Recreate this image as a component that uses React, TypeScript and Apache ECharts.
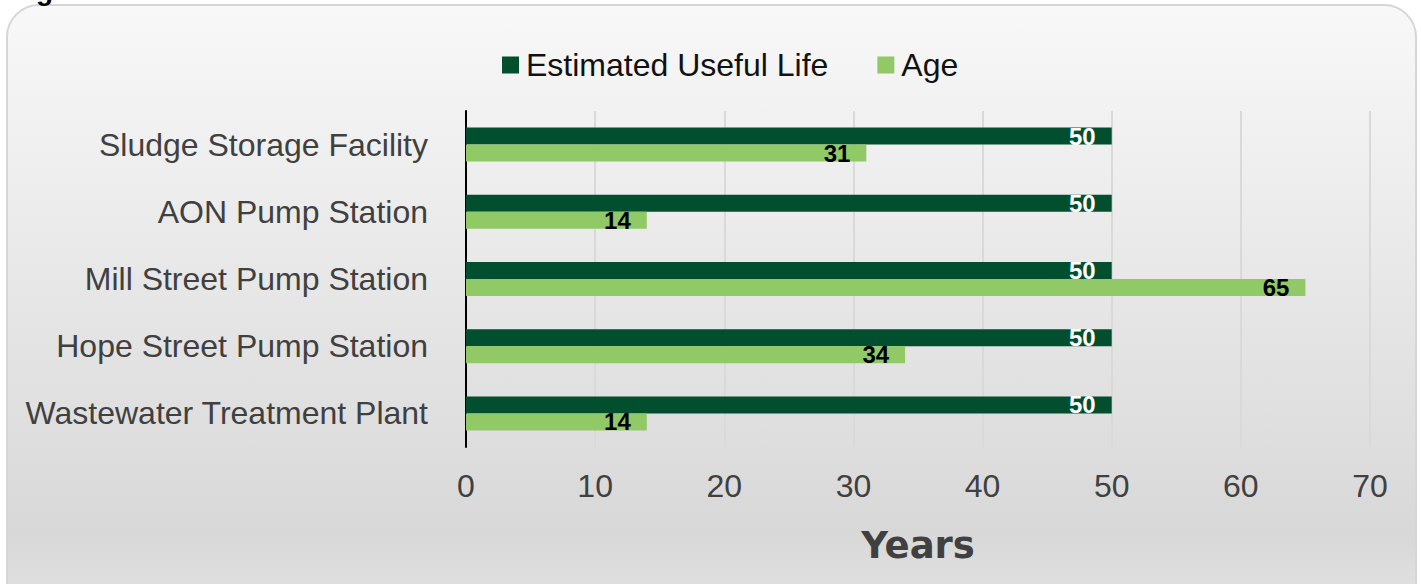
import React, { useEffect, useRef } from "react";
import * as echarts from "echarts";

const categories = [
  "Sludge Storage Facility",
  "AON Pump Station",
  "Mill Street Pump Station",
  "Hope Street Pump Station",
  "Wastewater Treatment Plant",
];
const usefulLife = [50, 50, 50, 50, 50];
const age = [31, 14, 65, 34, 14];
const seriesNames = ["Estimated Useful Life", "Age"];
const xTicks = { min: 0, max: 70, interval: 10 };
const axisTitle = "Years";

const FONT = "'Liberation Sans', Arial, sans-serif";
const DARK = "#024f2f";
const LIGHT = "#92c967";

export default function App() {
  const ref = useRef<HTMLDivElement>(null);
  useEffect(() => {
    if (!ref.current) return;
    const chart = echarts.init(ref.current, undefined, { renderer: "svg" });
    chart.setOption({
      animation: false,
      backgroundColor: "#ffffff",
      textStyle: { fontFamily: FONT },
      graphic: [
        {
          type: "rect",
          z: -10,
          silent: true,
          shape: { x: 7, y: 5, width: 1409, height: 620, r: 32 },
          style: {
            fill: new echarts.graphic.LinearGradient(0, 0, 0, 1, [
              { offset: 0, color: "#f8f8f8" },
              { offset: 0.85, color: "#d8d8d8" },
              { offset: 1, color: "#e4e4e4" },
            ]),
            stroke: "#d6d6d6",
            lineWidth: 2,
          },
        },
        {
          type: "text",
          x: 36,
          y: 4,
          z: 10,
          silent: true,
          style: {
            text: "g",
            fontSize: 28,
            fontWeight: "bold",
            fontFamily: FONT,
            fill: "#000000",
            verticalAlign: "bottom",
          },
        },
      ],
      legend: {
        left: 497,
        top: 44,
        itemWidth: 17,
        itemHeight: 17,
        itemGap: 49,
        icon: "rect",
        textStyle: { fontSize: 32, color: "#111111", fontFamily: FONT, padding: [0, 0, 0, 2] },
        data: seriesNames,
      },
      grid: { left: 466, right: 51, top: 111, bottom: 137, containLabel: false },
      xAxis: {
        type: "value",
        min: xTicks.min,
        max: xTicks.max,
        interval: xTicks.interval,
        name: axisTitle,
        nameLocation: "middle",
        nameGap: 80,
        nameTextStyle: {
          fontSize: 37,
          fontWeight: "bold",
          color: "#404040",
          fontFamily: "'DejaVu Sans', sans-serif",
        },
        axisLine: { show: false },
        axisTick: { show: false },
        axisLabel: { fontSize: 32, color: "#404040", margin: 23, fontFamily: FONT },
        splitLine: { show: true, lineStyle: { color: "#d9d9d9", width: 2 } },
      },
      yAxis: {
        type: "category",
        inverse: true,
        data: categories,
        axisLine: { show: true, lineStyle: { color: "#000000", width: 2 } },
        axisTick: { show: false },
        axisLabel: { fontSize: 32, color: "#404040", margin: 38, fontFamily: FONT },
      },
      series: [
        {
          name: seriesNames[0],
          type: "bar",
          data: usefulLife,
          barWidth: 17,
          barGap: "0%",
          itemStyle: { color: DARK },
          label: {
            show: true,
            position: "insideRight",
            distance: 16,
            fontSize: 24,
            fontWeight: "bold",
            color: "#ffffff",
            fontFamily: FONT,
          },
        },
        {
          name: seriesNames[1],
          type: "bar",
          data: age,
          barWidth: 17,
          barGap: "0%",
          itemStyle: { color: LIGHT },
          label: {
            show: true,
            position: "insideRight",
            distance: 16,
            fontSize: 24,
            fontWeight: "bold",
            color: "#000000",
            fontFamily: FONT,
          },
        },
      ],
    });
    return () => chart.dispose();
  }, []);
  return (
    <div
      ref={ref}
      style={{ position: "fixed", left: 0, top: 0, width: 1421, height: 584 }}
    />
  );
}
